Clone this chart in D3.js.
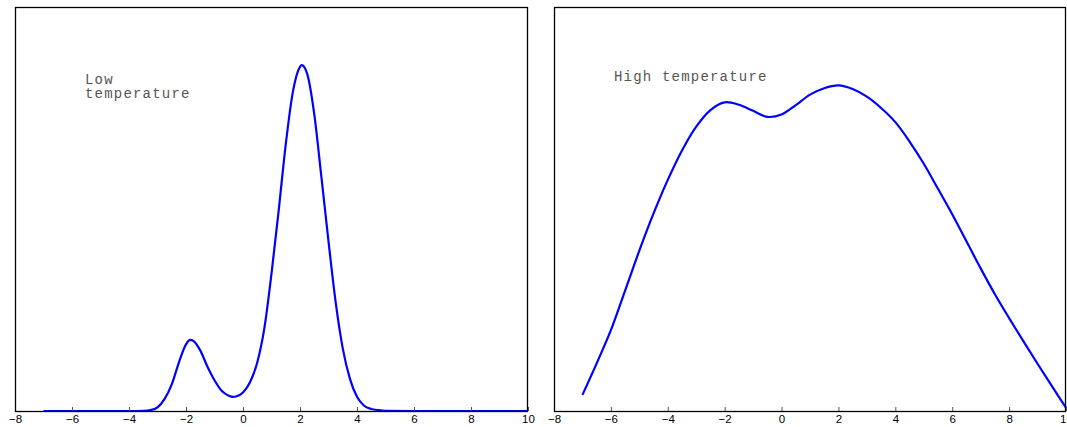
<!DOCTYPE html>
<html><head><meta charset="utf-8">
<script src="https://cdn.jsdelivr.net/npm/d3@7"></script>
<style>
html,body{margin:0;padding:0;background:#fff;}
svg{display:block;}
</style></head>
<body>
<svg id="chart" width="1067" height="427"></svg>
<script>
// ---- data ----
const xTicks = [-8, -6, -4, -2, 0, 2, 4, 6, 8, 10];

const lowX = [-7, -6, -5, -4, -3.5, -3.25, -3, -2.75, -2.5, -2.25, -2, -1.85, -1.75, -1.5, -1.25, -1, -0.75, -0.5, -0.35, -0.25, 0, 0.25, 0.5, 0.75, 1, 1.25, 1.5, 1.75, 2, 2.06, 2.25, 2.5, 2.75, 3, 3.25, 3.5, 3.75, 4, 4.25, 4.5, 4.75, 5, 6, 7, 8, 9, 10];
const lowY = [0, 0, 0, 0, 0.0005, 0.002, 0.009, 0.03, 0.066, 0.12, 0.165, 0.176, 0.174, 0.15, 0.11, 0.076, 0.05, 0.038, 0.035, 0.036, 0.046, 0.072, 0.12, 0.205, 0.34, 0.495, 0.66, 0.79, 0.852, 0.856, 0.835, 0.735, 0.58, 0.42, 0.27, 0.155, 0.08, 0.035, 0.013, 0.005, 0.002, 0.0005, 0, 0, 0, 0, 0];

const highX = [-7, -6.5, -6, -5.5, -5, -4.5, -4, -3.5, -3, -2.5, -2, -1.5, -1, -0.5, 0, 0.5, 1, 1.5, 2, 2.5, 3, 3.5, 4, 4.5, 5, 5.5, 6, 6.5, 7, 7.5, 8, 8.5, 9, 9.5, 10];
const highY = [0.04, 0.118, 0.2, 0.298, 0.397, 0.489, 0.572, 0.645, 0.704, 0.745, 0.764, 0.758, 0.743, 0.728, 0.734, 0.757, 0.783, 0.799, 0.806, 0.797, 0.778, 0.75, 0.715, 0.667, 0.612, 0.55, 0.487, 0.42, 0.353, 0.289, 0.23, 0.173, 0.117, 0.062, 0.008];

const panels = [
  {xs: lowX, ys: lowY, left: 15, right: 528, label: ["Low", "temperature"], lx: 85, ly: 84, curve: d3.curveMonotoneX},
  {xs: highX, ys: highY, left: 554, right: 1066, label: ["High temperature"], lx: 614, ly: 81, curve: d3.curveCatmullRom.alpha(0.5)}
];

const plotTop = 7, plotBottom = 411;
const svg = d3.select("#chart");

panels.forEach(p => {
  const x = d3.scaleLinear().domain([-8, 10]).range([p.left, p.right]);
  const y = d3.scaleLinear().domain([0, 1]).range([plotBottom, plotTop]);
  const g = svg.append("g");

  // curve
  const data = p.xs.map((v, i) => [v, p.ys[i]]);
  g.append("path")
    .datum(data)
    .attr("fill", "none")
    .attr("stroke", "#0000ff")
    .attr("stroke-width", 2.2)
    .attr("stroke-linejoin", "round")
    .attr("d", d3.line().x(d => x(d[0])).y(d => y(d[1])).curve(p.curve));

  // bottom axis with inward ticks
  const ax = g.append("g")
    .attr("transform", `translate(0,${plotBottom})`)
    .call(d3.axisBottom(x).tickValues(xTicks).tickSizeInner(-4).tickSizeOuter(0).tickPadding(4)
      .tickFormat(d => d < 0 ? "\u2212" + Math.abs(d) : String(d)));
  ax.select(".domain").remove();
  ax.selectAll(".tick line").attr("stroke", "#555");
  ax.selectAll(".tick text")
    .attr("font-family", "'Liberation Sans', Arial, sans-serif")
    .attr("font-size", 11.5)
    .attr("fill", "#000");

  // frame
  g.append("rect")
    .attr("x", p.left + 0.5).attr("y", plotTop + 0.5)
    .attr("width", p.right - p.left - 1).attr("height", plotBottom - plotTop)
    .attr("fill", "none").attr("stroke", "#000").attr("stroke-width", 1.3);

  // label
  const t = g.append("text")
    .attr("x", p.lx).attr("y", p.ly)
    .attr("font-family", "'Liberation Mono', 'Courier New', monospace")
    .attr("font-size", 14)
    .attr("letter-spacing", 1.2)
    .attr("fill", "#555");
  p.label.forEach((s, i) => {
    t.append("tspan").attr("x", p.lx).attr("dy", i === 0 ? 0 : 13.5).text(s);
  });
});
</script>
</body></html>
